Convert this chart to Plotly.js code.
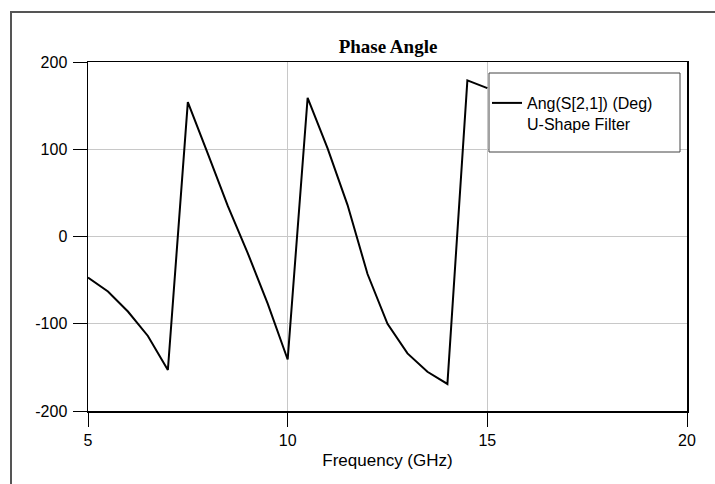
<!DOCTYPE html>
<html>
<head>
<meta charset="utf-8">
<script src="https://cdn.plot.ly/plotly-3.0.1.min.js"></script>
<style>
  html, body { margin: 0; padding: 0; background: #fff; }
  #wrap { position: relative; width: 715px; height: 484px; overflow: hidden; }
  #chart { width: 715px; height: 484px; }
  #frame { position: absolute; left: 10px; top: 11px; width: 800px; height: 600px;
           border-left: 2px solid #555; border-top: 2px solid #555; pointer-events: none; }
</style>
</head>
<body>
<div id="wrap">
  <div id="chart"></div>
  <div id="frame"></div>
</div>
<script>
// Frequency (GHz)
const freq = [5, 5.5, 6, 6.5, 7, 7.5, 8, 8.5, 9, 9.5, 10, 10.5, 11, 11.5, 12, 12.5, 13, 13.5, 14, 14.5, 15];
// Ang(S[2,1]) (Deg)
const phase = [-47, -63, -86, -114, -153, 154, 95, 35, -19, -77, -141, 159, 101, 36, -43, -100, -134, -155, -169, 179, 170];

const xTicks = [5, 10, 15, 20];
const yTicks = [-200, -100, 0, 100, 200];

const traceName = 'Ang(S[2,1]) (Deg)<br>U-Shape Filter';

const data = [{
  x: freq,
  y: phase,
  type: 'scatter',
  mode: 'lines',
  name: traceName,
  line: { color: '#000', width: 2 },
  showlegend: true
}];

const font = 'Liberation Sans, Arial, sans-serif';

const layout = {
  width: 715,
  height: 484,
  margin: { l: 88, r: 28, t: 62, b: 73 },
  paper_bgcolor: '#fff',
  plot_bgcolor: '#fff',
  title: {
    text: '<b>Phase Angle</b>',
    font: { family: 'Liberation Serif, Times New Roman, serif', size: 19, color: '#000' },
    x: 0.5427, xanchor: 'center',
    y: 0.905, yanchor: 'middle'
  },
  xaxis: {
    range: [5, 20],
    tickvals: xTicks,
    ticktext: xTicks.map(String),
    ticks: 'outside',
    ticklen: 14,
    tickwidth: 1,
    tickcolor: '#000',
    showline: true,
    linecolor: '#000',
    linewidth: 1.5,
    mirror: true,
    showgrid: true,
    gridcolor: '#c8c8c8',
    gridwidth: 1,
    zeroline: false,
    tickfont: { family: font, size: 16, color: '#000' },
    title: { text: 'Frequency (GHz)', font: { family: font, size: 17, color: '#000' }, standoff: 6 }
  },
  yaxis: {
    range: [-200, 200],
    tickvals: yTicks,
    ticktext: yTicks.map(String),
    ticks: 'outside',
    ticklen: 14,
    tickwidth: 1,
    tickcolor: '#000',
    showline: true,
    linecolor: '#000',
    linewidth: 1.5,
    mirror: true,
    showgrid: true,
    gridcolor: '#c8c8c8',
    gridwidth: 1,
    zeroline: false,
    ticklabelstandoff: 2,
    tickfont: { family: font, size: 16, color: '#000' }
  },
  shapes: [{
    type: 'rect',
    xref: 'paper', yref: 'paper',
    x0: (489 - 88) / 599, x1: (680 - 88) / 599,
    y0: (411 - 152) / 349, y1: (411 - 73) / 349,
    fillcolor: '#fff',
    line: { color: '#444', width: 1 },
    layer: 'above'
  }],
  legend: {
    x: (487 - 88) / 599, xanchor: 'left',
    y: (411 - 86) / 349, yanchor: 'top',
    bgcolor: 'rgba(0,0,0,0)',
    borderwidth: 0,
    valign: 'top',
    itemwidth: 30,
    font: { family: font, size: 16, color: '#000' }
  }
};

Plotly.newPlot('chart', data, layout, { displayModeBar: false, staticPlot: true });
</script>
</body>
</html>
